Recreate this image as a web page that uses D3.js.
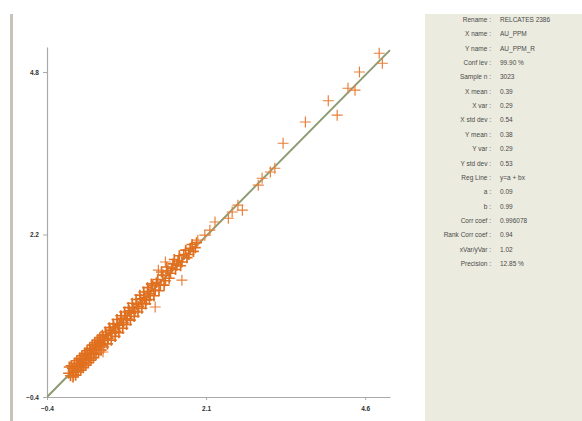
<!DOCTYPE html>
<html>
<head>
<meta charset="utf-8">
<script src="https://cdn.jsdelivr.net/npm/d3@7"></script>
<style>
  html, body { margin: 0; padding: 0; background: #fff; }
  svg { display: block; font-family: "Liberation Sans", Arial, sans-serif; }
</style>
</head>
<body>
<svg id="chart" width="582" height="421"></svg>
<script>
// Dense cluster near the 1:1 line
const clusterPoints = [
  [-0.06, -0.02], [-0.03, -0.06], [0.00, 0.06], [0.02, 0.00], [0.04, 0.07],
  [0.06, 0.02], [0.08, 0.13], [0.10, 0.09], [0.12, 0.19], [0.14, 0.11],
  [0.16, 0.19], [0.18, 0.14], [0.20, 0.27], [0.22, 0.22], [0.24, 0.29],
  [0.26, 0.23], [0.28, 0.36], [0.30, 0.29], [0.32, 0.36], [0.34, 0.30],
  [0.36, 0.42], [0.38, 0.39], [0.40, 0.47], [0.42, 0.40], [0.44, 0.48],
  [0.46, 0.43], [0.48, 0.56], [0.50, 0.51], [0.53, 0.59], [0.56, 0.54],
  [0.59, 0.67], [0.62, 0.62], [0.65, 0.72], [0.68, 0.65], [0.71, 0.76],
  [0.74, 0.75], [0.77, 0.86], [0.80, 0.79], [0.83, 0.90], [0.86, 0.85],
  [0.89, 0.98], [0.92, 0.94], [0.95, 1.03], [0.98, 0.97], [1.01, 1.08],
  [1.04, 1.05], [1.07, 1.17], [1.10, 1.10], [1.13, 1.19], [1.16, 1.15],
  [1.19, 1.29], [1.22, 1.25], [1.26, 1.38], [1.30, 1.31], [1.34, 1.48],
  [1.38, 1.40], [1.42, 1.55], [1.46, 1.46], [1.50, 1.62], [1.54, 1.58],
  [1.58, 1.73], [1.62, 1.64], [1.66, 1.77], [1.70, 1.70], [1.75, 1.88],
  [1.80, 1.83], [1.85, 1.98], [1.90, 1.93], [1.95, 2.07]
];

// More of the cluster, spread a little wider around the line
const clusterSpread = [
  [-0.05, 0.08], [-0.02, 0.10], [0.01, -0.08], [0.03, 0.14], [0.05, -0.05],
  [0.07, 0.18], [0.09, 0.00], [0.11, 0.22], [0.13, 0.03], [0.15, 0.26],
  [0.17, 0.07], [0.19, 0.30], [0.21, 0.11], [0.23, 0.34], [0.25, 0.15],
  [0.27, 0.38], [0.29, 0.19], [0.31, 0.43], [0.33, 0.23], [0.35, 0.47],
  [0.37, 0.28], [0.39, 0.51], [0.41, 0.31], [0.43, 0.55], [0.45, 0.35],
  [0.47, 0.59], [0.49, 0.40], [0.52, 0.64], [0.55, 0.45], [0.58, 0.71],
  [0.61, 0.51], [0.64, 0.77], [0.67, 0.57], [0.70, 0.84], [0.73, 0.63],
  [0.76, 0.90], [0.79, 0.70], [0.82, 0.96], [0.85, 0.76], [0.88, 1.03],
  [0.91, 0.83], [0.94, 1.10], [0.97, 0.89], [1.00, 1.16], [1.03, 0.96],
  [1.06, 1.23], [1.09, 1.02], [1.12, 1.28], [1.15, 1.09], [1.18, 1.35],
  [1.21, 1.16], [1.24, 1.41], [1.28, 1.22], [1.32, 1.43], [1.36, 1.30],
  [1.40, 1.60], [1.44, 1.39], [1.48, 1.68], [1.52, 1.50], [1.56, 1.66],
  [1.60, 1.80], [1.64, 1.71], [1.68, 1.86], [1.72, 1.76], [1.78, 1.95],
  [1.83, 1.88], [1.88, 2.04], [1.93, 1.99]
];

// Sparse samples at higher grades
const upperPoints = [
  [1.97, 2.11], [2.08, 2.19], [2.16, 2.27], [2.24, 2.40], [2.45, 2.46],
  [2.51, 2.56], [2.60, 2.67], [2.67, 2.59], [2.92, 2.99], [2.98, 3.10],
  [3.11, 3.20], [3.18, 3.26], [3.31, 3.66], [3.66, 4.00], [4.02, 4.34],
  [4.16, 4.11], [4.33, 4.54], [4.44, 4.51], [4.51, 4.80], [4.82, 5.10],
  [4.87, 4.94]
];

// Points clearly off the line
const offLinePoints = [
  [0.48, 0.32], [1.30, 1.04], [1.72, 1.47], [1.35, 1.63], [1.46, 1.76]
];

// Regression line end points
const fitLineX = [-0.4, 4.99];
const fitLineY = [-0.4, 5.15];

const xTicks = [-0.4, 2.1, 4.6];
const yTicks = [-0.4, 2.2, 4.8];

const statLabels = [
  'Rename', 'X name', 'Y name', 'Conf lev', 'Sample n', 'X mean', 'X var',
  'X std dev', 'Y mean', 'Y var', 'Y std dev', 'Reg Line', 'a', 'b',
  'Corr coef', 'Rank Corr coef', 'xVar/yVar', 'Precision'
];
const statValues = [
  'RELCATES 2386', 'AU_PPM', 'AU_PPM_R', '99.90  %', '3023', '0.39', '0.29',
  '0.54', '0.38', '0.29', '0.53', 'y=a + bx', '0.09', '0.99',
  '0.996078', '0.94', '1.02', '12.85     %'
];

const d3 = window.d3;
const svg = d3.select('#chart');

// Left frame bar
svg.append('rect')
    .attr('x', 10).attr('y', 14).attr('width', 3).attr('height', 407)
    .attr('fill', '#c9c2b9');

// Stats panel background
svg.append('rect')
    .attr('x', 425).attr('y', 14).attr('width', 157).attr('height', 407)
    .attr('fill', '#ecebdf');

const x = d3.scaleLinear().domain([-0.4, 4.99]).range([47, 390]);
const y = d3.scaleLinear().domain([-0.4, 5.2]).range([397, 47]);

svg.append('defs').append('clipPath').attr('id', 'plotClip')
    .append('rect').attr('x', 47).attr('y', 40).attr('width', 350).attr('height', 358);

// Axes
const xAxis = svg.append('g')
    .attr('transform', 'translate(0,397)')
    .call(d3.axisBottom(x).tickValues(xTicks).tickSize(3).tickSizeOuter(0)
        .tickFormat(d3.format('.1f')));
const yAxis = svg.append('g')
    .attr('transform', 'translate(47,0)')
    .call(d3.axisLeft(y).tickValues(yTicks).tickSize(4).tickSizeOuter(0)
        .tickFormat(d3.format('.1f')));

[xAxis, yAxis].forEach((g) => {
  g.select('.domain').attr('stroke', '#a9a9a9').attr('stroke-width', 1.2);
  g.selectAll('.tick line').attr('stroke', '#a9a9a9');
  g.selectAll('.tick text')
      .attr('fill', '#333')
      .style('font-size', '6.5px')
      .style('font-weight', 'bold')
      .style('font-family', '"Liberation Sans", Arial, sans-serif');
});
xAxis.selectAll('.tick text').attr('dy', '1.2em');
yAxis.selectAll('.tick text').attr('x', -8);

const plot = svg.append('g').attr('clip-path', 'url(#plotClip)');

// Fitted line
plot.append('line')
    .attr('x1', x(fitLineX[0])).attr('y1', y(fitLineY[0]))
    .attr('x2', x(fitLineX[1])).attr('y2', y(fitLineY[1]))
    .attr('stroke', '#8d9b72')
    .attr('stroke-width', 2);

// Cross markers
const arm = 5.5;
const crossPath = (d) => {
  const cx = x(d[0]);
  const cy = y(d[1]);
  return `M${cx - arm},${cy}H${cx + arm}M${cx},${cy - arm}V${cy + arm}`;
};

plot.append('g')
    .selectAll('path')
    .data(clusterPoints.concat(clusterSpread))
    .join('path')
    .attr('d', crossPath)
    .attr('fill', 'none')
    .attr('stroke', '#e0701f')
    .attr('stroke-width', 1.7);

plot.append('g')
    .selectAll('path')
    .data(upperPoints.concat(offLinePoints))
    .join('path')
    .attr('d', crossPath)
    .attr('fill', 'none')
    .attr('stroke', '#e8803a')
    .attr('stroke-width', 1.2);

// Stats text
const rowY = d3.scaleLinear().domain([0, statLabels.length - 1]).range([22, 266]);
const stats = svg.append('g')
    .style('font-size', '6.5px')
    .attr('fill', '#4a4a4a');

stats.selectAll('text.lbl')
    .data(statLabels)
    .join('text')
    .attr('class', 'lbl')
    .attr('x', 491)
    .attr('y', (d, i) => rowY(i))
    .attr('text-anchor', 'end')
    .text((d) => d + ' :');

stats.selectAll('text.val')
    .data(statValues)
    .join('text')
    .attr('class', 'val')
    .attr('x', 500)
    .attr('y', (d, i) => rowY(i))
    .text((d) => d);
</script>
</body>
</html>
